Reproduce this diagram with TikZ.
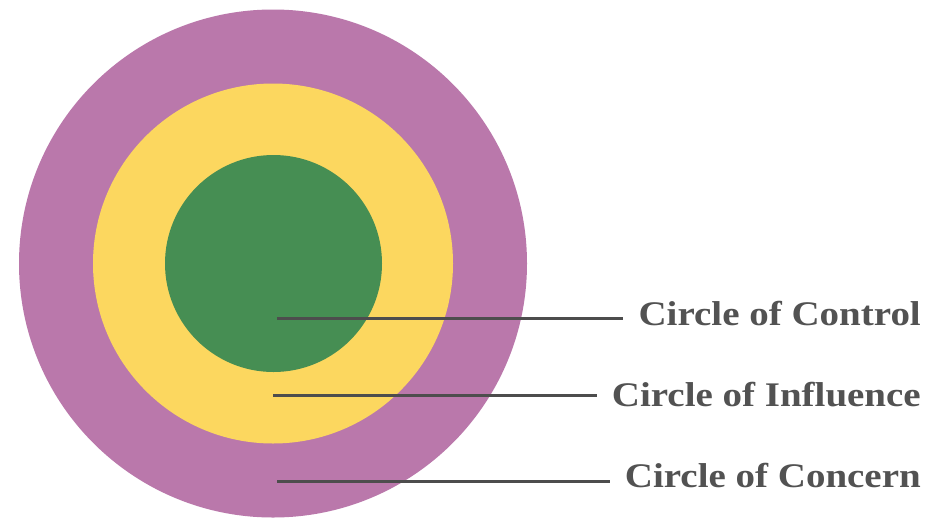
\documentclass[tikz,border=0pt]{standalone}
\usepackage{graphicx}
\usepackage{fontspec}
\setmainfont{Liberation Serif}
\definecolor{concern}{HTML}{BA78AB}
\definecolor{influence}{HTML}{FCD75F}
\definecolor{control}{HTML}{468E53}
\definecolor{lead}{HTML}{4D4D4D}
\definecolor{labeltext}{HTML}{525252}
\newcommand{\widelbl}[1]{\scalebox{1.13}[1]{#1}}
\begin{document}
\begin{tikzpicture}[x=1pt,y=-1pt,
  leader/.style={draw=lead,line width=3pt},
  lbl/.style={anchor=base east,inner sep=0pt,text=labeltext,font=\fontsize{34.5}{40}\selectfont\bfseries}]
\useasboundingbox[fill=white] (0,0) rectangle (940,528);
\fill[concern] (273,263.5) circle[radius=254];
\fill[influence] (273,263.5) circle[radius=180];
\fill[control] (273.5,263.5) circle[radius=108.5];
\node[lbl] (tctl) at (921,325) {\widelbl{Circle of Control}};
\node[lbl] (tinf) at (921,406) {\widelbl{Circle of Influence}};
\node[lbl] (tcon) at (921,487) {\widelbl{Circle of Concern}};
\coordinate (s1) at (277,318);
\coordinate (s2) at (273,395);
\coordinate (s3) at (277,481);
\draw[leader] (s1) -- ([xshift=-15pt]tctl.west |- s1);
\draw[leader] (s2) -- ([xshift=-15pt]tinf.west |- s2);
\draw[leader] (s3) -- ([xshift=-15pt]tcon.west |- s3);
\end{tikzpicture}
\end{document}
